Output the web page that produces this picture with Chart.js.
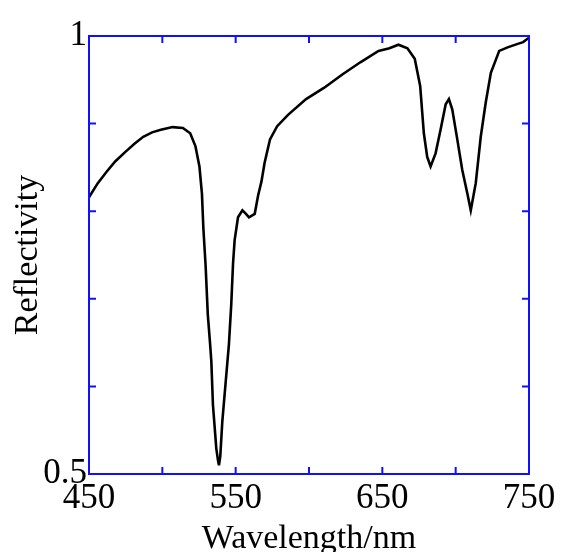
<!DOCTYPE html>
<html>
<head>
<meta charset="utf-8">
<script src="https://cdn.jsdelivr.net/npm/chart.js@4"></script>
<style>
  html, body { margin: 0; padding: 0; background: #fff; }
  #wrap { width: 563px; height: 552px; }
</style>
</head>
<body>
<div id="wrap"><canvas id="spectrumChart"></canvas></div>
<script>
// ---------------- DATA ----------------
const wavelengths = [
  450, 456, 462, 468, 475, 481, 487, 493, 499, 507, 514, 519, 522.6, 525.3, 527,
  528, 529.5, 531, 532.5, 533.4, 534.5, 536.8, 538, 538.6, 539.5, 540.9, 543.6,
  545.4, 547, 548.2, 549.3, 551.6, 554.6, 557, 559.1, 563, 565.3, 567.6, 569.7,
  573.4, 578.3, 585.7, 598, 610.4, 622.7, 635, 647.4, 654.8, 661, 667.1, 672.1,
  675.8, 678.3, 680.6, 682.9, 686.3, 689.7, 693.2, 695.4, 697.7, 701.1, 704.5,
  708, 710.3, 713.7, 717.1, 720.5, 724, 729.7, 735.4, 742.3, 746, 750
];
const reflectivity = [
  0.816, 0.832, 0.845, 0.857, 0.868, 0.877, 0.885, 0.890, 0.893, 0.896, 0.895, 0.889, 0.874, 0.851, 0.82,
  0.780, 0.738, 0.682, 0.650, 0.629, 0.579, 0.529, 0.515, 0.510, 0.520, 0.560, 0.613,
  0.648, 0.694, 0.740, 0.767, 0.793, 0.801, 0.797, 0.793, 0.797, 0.818, 0.834, 0.855,
  0.882, 0.897, 0.910, 0.928, 0.941, 0.956, 0.970, 0.983, 0.986, 0.990, 0.986, 0.974,
  0.943, 0.889, 0.862, 0.851, 0.866, 0.893, 0.922, 0.928, 0.916, 0.882, 0.847,
  0.820, 0.801, 0.832, 0.885, 0.924, 0.958, 0.983, 0.987, 0.991, 0.993, 0.998
];

const xTickValues = [450, 500, 550, 600, 650, 700, 750];
const xTickLabels = ["450", "", "550", "", "650", "", "750"];
const yTickValues = [0.5, 0.6, 0.7, 0.8, 0.9, 1];
const yTickLabels = ["0.5", "", "", "", "", "1"];

const axisBlue = "#1010ff";
const serif = "'Liberation Serif', 'Times New Roman', serif";

// ---------------- INWARD TICKS + BOX ----------------
const frameTicks = {
  id: "frameTicks",
  afterDatasetsDraw(chart) {
    const { ctx, chartArea: a, scales } = chart;
    const len = 7;
    ctx.save();
    ctx.strokeStyle = axisBlue;
    ctx.lineWidth = 2;
    ctx.beginPath();
    xTickValues.forEach(v => {
      const px = scales.x.getPixelForValue(v);
      ctx.moveTo(px, a.bottom); ctx.lineTo(px, a.bottom - len);
      ctx.moveTo(px, a.top); ctx.lineTo(px, a.top + len);
    });
    yTickValues.forEach(v => {
      const py = scales.y.getPixelForValue(v);
      ctx.moveTo(a.left, py); ctx.lineTo(a.left + len, py);
      ctx.moveTo(a.right, py); ctx.lineTo(a.right - len, py);
    });
    ctx.stroke();
    ctx.strokeRect(a.left, a.top, a.right - a.left, a.bottom - a.top);
    ctx.restore();
  }
};

// ---------------- CHART ----------------
const ctx = document.getElementById("spectrumChart").getContext("2d");
new Chart(ctx, {
  type: "line",
  data: {
    datasets: [{
      data: wavelengths.map((w, i) => ({ x: w, y: reflectivity[i] })),
      borderColor: "#000",
      borderWidth: 2.6,
      pointRadius: 0,
      tension: 0,
      fill: false
    }]
  },
  options: {
    responsive: true,
    maintainAspectRatio: false,
    animation: false,
    layout: { padding: { top: 36, right: 34, left: 0, bottom: 0 } },
    plugins: { legend: { display: false }, tooltip: { enabled: false } },
    scales: {
      x: {
        type: "linear",
        min: 450,
        max: 750,
        afterBuildTicks: scale => { scale.ticks = xTickValues.map(v => ({ value: v })); },
        afterFit: scale => { scale.height = 78; },
        grid: { display: false, drawTicks: false },
        border: { display: false },
        ticks: {
          autoSkip: false,
          maxRotation: 0,
          padding: 4,
          color: "#000",
          font: { family: serif, size: 35 },
          callback: (value, index) => xTickLabels[index]
        },
        title: {
          display: true,
          text: "Wavelength/nm",
          color: "#000",
          font: { family: serif, size: 34 },
          padding: { top: 0, bottom: -7 }
        }
      },
      y: {
        min: 0.5,
        max: 1,
        afterBuildTicks: scale => { scale.ticks = yTickValues.map(v => ({ value: v })); },
        afterFit: scale => { scale.width = 89; },
        grid: { display: false, drawTicks: false },
        border: { display: false },
        ticks: {
          autoSkip: false,
          padding: 2,
          color: "#000",
          font: { family: serif, size: 35 },
          callback: (value, index) => yTickLabels[index]
        },
        title: {
          display: true,
          text: "Reflectivity",
          color: "#000",
          font: { family: serif, size: 34 },
          padding: { top: 8, bottom: 0 }
        }
      }
    }
  },
  plugins: [frameTicks]
});
</script>
</body>
</html>
